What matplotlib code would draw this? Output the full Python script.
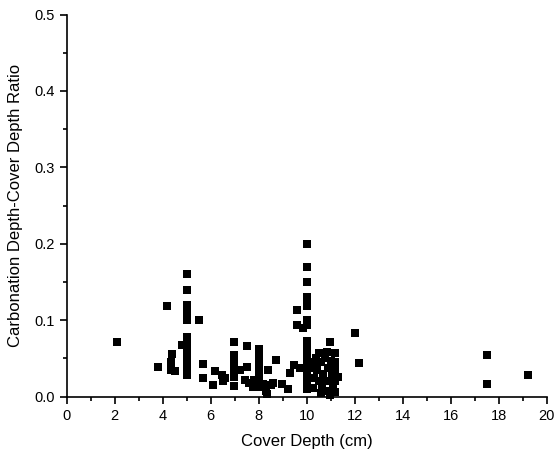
import matplotlib
matplotlib.use("Agg")
import matplotlib.pyplot as plt
from matplotlib.ticker import MultipleLocator, FormatStrFormatter

plt.rcParams['font.family'] = ['Liberation Sans', 'DejaVu Sans']

# cover depth (cm) and carbonation depth / cover depth ratio
left_x = [2.11, 3.79, 4.19, 4.40, 4.33, 4.35, 4.52, 4.79]
left_y = [0.071, 0.039, 0.119, 0.056, 0.045, 0.035, 0.033, 0.068]

col5_y = [0.160, 0.139, 0.120, 0.110, 0.100, 0.078, 0.070, 0.062,
          0.055, 0.048, 0.040, 0.034, 0.029]

mid_x = [5.5, 5.69, 5.69, 6.18, 6.08, 6.48, 6.6, 6.53,
         6.98, 6.98, 6.98, 6.98, 6.98, 6.98, 6.98,
         7.22, 7.5, 7.5, 7.43, 7.6, 7.75, 7.8]
mid_y = [0.100, 0.043, 0.025, 0.034, 0.015, 0.029, 0.024, 0.020,
         0.071, 0.055, 0.047, 0.040, 0.033, 0.026, 0.014,
         0.035, 0.066, 0.039, 0.022, 0.018, 0.013, 0.022]

col8_y = [0.063, 0.055, 0.048, 0.040, 0.032, 0.025, 0.018, 0.013]

near10_x = [8.2, 8.3, 8.35, 8.5, 8.6, 8.4, 8.71, 8.99, 9.21, 9.3,
            9.47, 9.72, 9.6, 9.6, 9.85]
near10_y = [0.017, 0.008, 0.004, 0.015, 0.018, 0.035, 0.048, 0.017, 0.010, 0.031,
            0.041, 0.037, 0.114, 0.094, 0.090]

col10_y = [0.200, 0.170, 0.150, 0.130, 0.122, 0.119, 0.100, 0.094, 0.073,
           0.065, 0.058, 0.050, 0.043, 0.036, 0.029, 0.022, 0.015, 0.010]

right_x = [10.2, 10.3, 10.3, 10.25, 10.45, 10.5, 10.5, 10.6, 10.65, 10.7,
           10.75, 10.83, 10.85, 10.9, 10.9, 10.97, 10.97, 11.0, 11.05, 11.1,
           11.18, 11.18, 11.18, 11.18, 11.18, 11.3, 10.4, 10.6,
           12.0, 12.19, 17.5, 17.5, 19.21]
right_y = [0.038, 0.045, 0.025, 0.012, 0.035, 0.057, 0.020, 0.045, 0.012, 0.030,
           0.050, 0.059, 0.020, 0.038, 0.008, 0.072, 0.002, 0.047, 0.028, 0.015,
           0.057, 0.045, 0.035, 0.020, 0.006, 0.026, 0.050, 0.005,
           0.083, 0.044, 0.054, 0.016, 0.028]

cover = (left_x + [5.0] * len(col5_y) + mid_x + [8.0] * len(col8_y)
         + near10_x + [10.0] * len(col10_y) + right_x)
ratio = left_y + col5_y + mid_y + col8_y + near10_y + col10_y + right_y

fig = plt.figure(figsize=(5.55, 4.62), dpi=100)
ax = fig.add_axes([0.120, 0.1413, 0.865, 0.8273])

ax.plot(cover, ratio, linestyle="none", marker="s", markersize=5.8,
        markerfacecolor="black", markeredgewidth=0, clip_on=False)

ax.set_xlim(0, 20)
ax.set_ylim(0, 0.5)
ax.xaxis.set_major_locator(MultipleLocator(2))
ax.xaxis.set_minor_locator(MultipleLocator(1))
ax.yaxis.set_major_locator(MultipleLocator(0.1))
ax.yaxis.set_minor_locator(MultipleLocator(0.05))
ax.yaxis.set_major_formatter(FormatStrFormatter("%.1f"))

for side in ["top", "right"]:
    ax.spines[side].set_visible(False)
for side in ["left", "bottom"]:
    ax.spines[side].set_linewidth(1.2)

ax.tick_params(which="major", direction="out", length=5, width=1.2,
               labelsize=10.5, colors="black")
ax.tick_params(which="minor", direction="out", length=3, width=1.2)

ax.set_xlabel("Cover Depth (cm)", fontsize=12, labelpad=8)
ax.set_ylabel("Carbonation Depth-Cover Depth Ratio", fontsize=12, labelpad=8)

fig.savefig("out.png", dpi=100)
